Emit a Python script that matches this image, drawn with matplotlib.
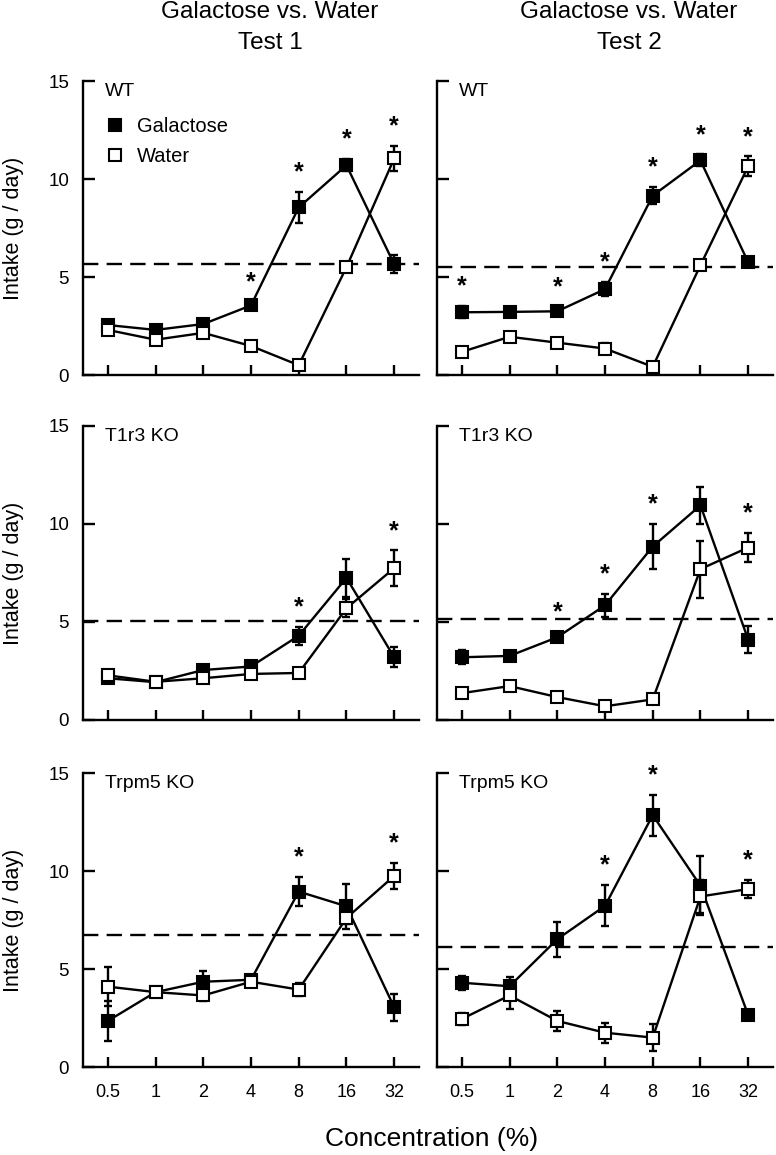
import numpy as np
import matplotlib
matplotlib.use('Agg')
import matplotlib.pyplot as plt
from matplotlib.lines import Line2D

plt.rcParams['font.family'] = ['Liberation Sans', 'DejaVu Sans']

conc = ['0.5', '1', '2', '4', '8', '16', '32']

# Test 1 / Test 2, galactose and water intake (g/day) with SEM
wt_gal_1 = [2.55, 2.3, 2.6, 3.55, 8.55, 10.7, 5.65]
wt_gal_1_err = [0.2, 0.25, 0.2, 0.2, 0.8, 0.3, 0.45]
wt_wat_1 = [2.3, 1.8, 2.15, 1.48, 0.5, 5.5, 11.05]
wt_wat_1_err = [0.2, 0.2, 0.15, 0.15, 0.1, 0.2, 0.65]
wt_sig_1 = [3, 4, 5, 6]

wt_gal_2 = [3.2, 3.22, 3.25, 4.38, 9.15, 10.95, 5.75]
wt_gal_2_err = [0.3, 0.2, 0.2, 0.35, 0.45, 0.3, 0.15]
wt_wat_2 = [1.18, 1.95, 1.65, 1.35, 0.42, 5.6, 10.65]
wt_wat_2_err = [0.15, 0.2, 0.2, 0.3, 0.1, 0.2, 0.5]
wt_sig_2 = [0, 2, 3, 4, 5, 6]

t1r3_gal_1 = [2.13, 1.93, 2.55, 2.73, 4.3, 7.25, 3.2]
t1r3_gal_1_err = [0.15, 0.15, 0.15, 0.15, 0.45, 0.95, 0.5]
t1r3_wat_1 = [2.28, 1.95, 2.13, 2.35, 2.4, 5.7, 7.75]
t1r3_wat_1_err = [0.15, 0.15, 0.15, 0.15, 0.15, 0.45, 0.9]
t1r3_sig_1 = [4, 6]

t1r3_gal_2 = [3.2, 3.27, 4.22, 5.85, 8.85, 10.95, 4.1]
t1r3_gal_2_err = [0.35, 0.2, 0.25, 0.6, 1.15, 0.95, 0.7]
t1r3_wat_2 = [1.37, 1.73, 1.17, 0.7, 1.05, 7.7, 8.8]
t1r3_wat_2_err = [0.15, 0.15, 0.15, 0.25, 0.15, 1.45, 0.75]
t1r3_sig_2 = [2, 3, 4, 6]

trpm5_gal_1 = [2.35, 3.82, 4.35, 4.45, 8.95, 8.2, 3.05]
trpm5_gal_1_err = [1.0, 0.2, 0.55, 0.2, 0.75, 1.15, 0.7]
trpm5_wat_1 = [4.1, 3.82, 3.65, 4.35, 3.95, 7.6, 9.75]
trpm5_wat_1_err = [1.0, 0.2, 0.3, 0.2, 0.35, 0.3, 0.65]
trpm5_sig_1 = [4, 6]

trpm5_gal_2 = [4.3, 4.12, 6.52, 8.22, 12.85, 9.25, 2.65]
trpm5_gal_2_err = [0.35, 0.45, 0.9, 1.05, 1.05, 1.5, 0.15]
trpm5_wat_2 = [2.45, 3.65, 2.35, 1.75, 1.5, 8.7, 9.08]
trpm5_wat_2_err = [0.3, 0.7, 0.5, 0.5, 0.7, 0.85, 0.45]
trpm5_sig_2 = [3, 4, 6]

# dashed reference lines
baseline = [[5.65, 5.5], [5.05, 5.15], [6.75, 6.12]]
strains = ['WT', 'T1r3 KO', 'Trpm5 KO']

panels = [
    [(wt_gal_1, wt_gal_1_err, wt_wat_1, wt_wat_1_err, wt_sig_1),
     (wt_gal_2, wt_gal_2_err, wt_wat_2, wt_wat_2_err, wt_sig_2)],
    [(t1r3_gal_1, t1r3_gal_1_err, t1r3_wat_1, t1r3_wat_1_err, t1r3_sig_1),
     (t1r3_gal_2, t1r3_gal_2_err, t1r3_wat_2, t1r3_wat_2_err, t1r3_sig_2)],
    [(trpm5_gal_1, trpm5_gal_1_err, trpm5_wat_1, trpm5_wat_1_err, trpm5_sig_1),
     (trpm5_gal_2, trpm5_gal_2_err, trpm5_wat_2, trpm5_wat_2_err, trpm5_sig_2)],
]

W, H = 776, 1155
fig = plt.figure(figsize=(W / 100, H / 100), dpi=100)

x = np.arange(len(conc))
lefts = [83, 437]
bottoms = [375, 720, 1067]
ax_w, ax_h = 336, 294
lw = 1.7

for r in range(3):
    for c in range(2):
        gal, gerr, wat, werr, sig = panels[r][c]
        ax = fig.add_axes([lefts[c] / W, 1 - bottoms[r] / H, ax_w / W, ax_h / H])
        ax.errorbar(x, gal, yerr=gerr, fmt='none', ecolor='black', elinewidth=lw,
                    capsize=3.2, capthick=lw, zorder=2)
        ax.errorbar(x, wat, yerr=werr, fmt='none', ecolor='black', elinewidth=lw,
                    capsize=3.2, capthick=lw, zorder=2)
        ax.plot(x, gal, color='black', lw=lw, marker='s', ms=8.5, mfc='black',
                mec='black', mew=1.5, zorder=3)
        ax.plot(x, wat, color='black', lw=lw, marker='s', ms=8.5, mfc='white',
                mec='black', mew=1.5, zorder=4)
        ax.axhline(baseline[r][c], color='black', lw=lw, dashes=(6.5, 3.5), zorder=1)

        gal_a, gerr_a = np.array(gal), np.array(gerr)
        wat_a, werr_a = np.array(wat), np.array(werr)
        for i in sig:
            top = max(gal_a[i] + gerr_a[i], wat_a[i] + werr_a[i])
            ax.text(x[i], top + 1.0, '*', ha='center', va='center', fontsize=18,
                    fontweight='bold')

        ax.set_xlim(-0.52, 6.52)
        ax.set_ylim(0, 15)
        ax.set_yticks([0, 5, 10, 15])
        ax.set_xticks(x)
        for s in ['top', 'right']:
            ax.spines[s].set_visible(False)
        for s in ['left', 'bottom']:
            ax.spines[s].set_linewidth(lw)
        ax.tick_params(axis='y', direction='in', length=8.5, width=lw, pad=10,
                       labelsize=13.5)
        ax.tick_params(axis='x', direction='in', length=7, width=lw, pad=12,
                       labelsize=13)
        if c == 1:
            ax.set_yticklabels([])
        if r < 2:
            ax.set_xticklabels([])
        else:
            ax.set_xticklabels(conc)
        ax.text(0.065, 0.965, strains[r], transform=ax.transAxes, fontsize=14,
                ha='left', va='center')

        if r == 0 and c == 0:
            handles = [Line2D([], [], ls='none', marker='s', ms=8.5, mfc='black',
                              mec='black', mew=1.5),
                       Line2D([], [], ls='none', marker='s', ms=8.5, mfc='white',
                              mec='black', mew=1.5)]
            ax.legend(handles, ['Galactose', 'Water'], loc='upper left',
                      bbox_to_anchor=(0.065, 0.878), frameon=False, fontsize=14.5,
                      handlelength=1.0, handletextpad=0.6, labelspacing=0.55,
                      borderaxespad=0, borderpad=0)

    fig.text(14 / W, 1 - (bottoms[r] - ax_h / 2) / H, 'Intake (g / day)',
             rotation=90, ha='center', va='center', fontsize=15.5)

for cx, n in zip([270, 629], [1, 2]):
    fig.text(cx / W, 1 - 12 / H, 'Galactose vs. Water', ha='center', va='center',
             fontsize=17.5)
    fig.text(cx / W, 1 - 43 / H, 'Test %d' % n, ha='center', va='center',
             fontsize=17.5)

fig.text(432 / W, 1 - 1139 / H, 'Concentration (%)', ha='center', va='center',
         fontsize=19)

fig.savefig('out.png', dpi=100)
